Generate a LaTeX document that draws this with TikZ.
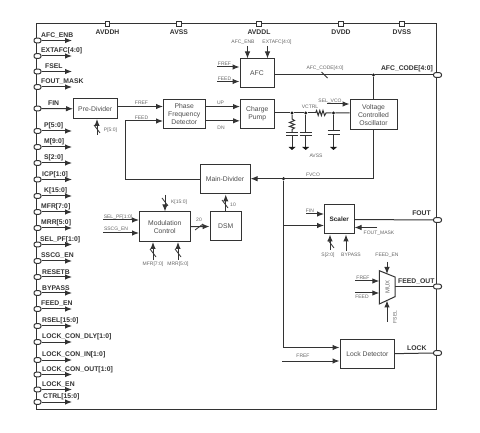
\documentclass[tikz,border=0pt]{standalone}
\usepackage{fontspec}
\setmainfont{Liberation Sans}
\usetikzlibrary{arrows.meta}
\tikzset{
  x=1pt,y=-1pt,
  wire/.style={line width=1pt,draw=black!80},
  arr/.style={wire,-{Latex[length=7pt,width=5.5pt]}},
  blockbox/.style={draw=black!80,line width=1pt,fill=white,align=center,inner sep=0pt,text=black!70,
    font=\fontsize{6.8}{8}\selectfont},
  pin/.style={draw=black!80,line width=1pt,fill=white,rounded corners=2pt,minimum width=7pt,minimum height=4.6pt,inner sep=0pt},
  pad/.style={draw=black!80,line width=1pt,fill=white,minimum width=4.5pt,minimum height=4.5pt,inner sep=0pt},
  biglab/.style={font=\fontsize{6.8}{7}\selectfont\bfseries,text=black!80,inner sep=0pt},
  smalllab/.style={font=\fontsize{5}{5}\selectfont,text=black!60,inner sep=0pt},
  dot/.style={circle,fill=black!90,minimum size=3.4pt,inner sep=0pt},
  gnd/.style={draw=none,fill=black!90},
}
\newcommand{\busmark}[3]{\draw[wire,line width=0.8pt] ([shift={(#2,#3)}]#1) -- ([shift={(-#2,-#3)}]#1);}
\newcommand{\groundat}[1]{\fill[gnd] ([shift={(-3.5,0)}]#1) -- ([shift={(3.5,0)}]#1) -- ([shift={(0,3)}]#1) -- cycle;}
\begin{document}
\begin{tikzpicture}
\useasboundingbox (0,0) rectangle (480,433);
\fill[white] (0,0) rectangle (480,433);
% frame
\coordinate (fTL) at (36,24); \coordinate (fBR) at (436,409);
\draw[wire] (fTL) rectangle (fBR);
% supply pads
\foreach \n/\x/\t in {avddh/107.5/AVDDH,avss/179/AVSS,avddl/259/AVDDL,dvdd/341/DVDD,dvss/402/DVSS}{
  \node[pad] (\n) at (\x,24) {};
  \node[biglab] (\n lab) at (\x,32) {\t};
}
% left pins
\foreach \n/\y/\x/\t in {
  a/40.5/41/AFC\_ENB, b/56/41/EXTAFC[4:0], c/71.5/45/FSEL, d/87/41/FOUT\_MASK,
  e/108.5/48/FIN, f/131/44/P[5:0], g/147/44/M[9:0], h/163/44/S[2:0],
  i/179.5/42/ICP[1:0], j/196/44/K[15:0], k/212/41/MFR[7:0], l/228/41/MRR[5:0],
  m/244.5/40/SEL\_PF[1:0], n/261/41/SSCG\_EN, o/277/42/RESETB, p/293/42/BYPASS,
  q/309/41/FEED\_EN, r/326/42/RSEL[15:0], s/342/42/LOCK\_CON\_DLY[1:0],
  t/360/42/LOCK\_CON\_IN[1:0], u/374.5/42/LOCK\_CON\_OUT[1:0], v/389.5/42/LOCK\_EN, w/402/43/CTRL[15:0]}{
  \node[pin] (pin\n) at (37.5,\y) {};
  \node[biglab,anchor=west] (lab\n) at (\x,\y-5) {\t};
  \coordinate (end\n) at (72,\y);
}
\foreach \n in {a,b,c,d,f,g,h,i,j,k,l,m,n,o,p,q,r,s,t,u,v,w}{\draw[arr] (pin\n.east) -- (end\n);}
% blocks
\node[blockbox,minimum width=43.5pt,minimum height=19.5pt] (pre) at (95.25,108.75) {Pre-Divider};
\node[blockbox,minimum width=41.5pt,minimum height=29.5pt] (pfd) at (184.25,114.25) {Phase\\Frequency\\Detector};
\node[blockbox,minimum width=34pt,minimum height=29pt] (afc) at (257,73.5) {AFC};
\node[blockbox,minimum width=33.5pt,minimum height=29pt] (cp) at (257.25,113.75) {Charge\\Pump};
\node[blockbox,minimum width=47pt,minimum height=29.5pt] (vco) at (373.5,114.75) {Voltage\\Controlled\\Oscillator};
\node[blockbox,minimum width=50pt,minimum height=29.5pt] (main) at (225,179.25) {Main-Divider};
\node[blockbox,minimum width=50.5pt,minimum height=29.5pt] (mod) at (164.75,226.75) {Modulation\\Control};
\node[blockbox,minimum width=31.5pt,minimum height=29pt] (dsm) at (225.75,226.5) {DSM};
\node[blockbox,minimum width=29.5pt,minimum height=29pt,text=black!85,font=\fontsize{6.4}{8}\selectfont\bfseries] (scaler) at (339.25,219.5) {Scaler};
\node[blockbox,minimum width=54.7pt,minimum height=29.3pt] (lock) at (367.35,353.65) {Lock Detector};
% MUX
\draw[blockbox] (379.3,270.7) coordinate (muxTL) -- (395,277) coordinate (muxTR) -- (395,296.7) coordinate (muxBR) -- (379.3,304) coordinate (muxBL) -- cycle;
\node[smalllab,rotate=90,font=\fontsize{6}{6}\selectfont] (muxlab) at (387.5,287) {MUX};
% right pads
\foreach \n/\y in {oafc/75,ofout/220,ofeed/286.5,olock/353}{\node[pin,minimum width=8pt] (\n) at (437.5,\y) {};}
% junction dots
\node[dot] (jafc) at (373.5,75) {};
\node[dot] (jvco) at (283.5,178.7) {};
\node[dot] (j1) at (292,113) {};
\node[dot] (j2) at (305.7,113) {};
\node[dot] (j3) at (333.5,113) {};
% main signal paths
\draw[wire] (afc.east |- jafc) -- (jafc) -- (oafc.west);
\draw[wire] (jafc) -- (vco.north);
\draw[arr] (pine.east) -- (pre.west);
\draw[arr] (pre.east |- 0,106.5) -- (pfd.west |- 0,106.5);
\coordinate (fbk) at (125,121);
\draw[arr] (main.west) -- (fbk |- main.west) -- (fbk) -- (pfd.west |- fbk);
\draw[arr] (pfd.east |- 0,106.6) -- (cp.west |- 0,106.6);
\draw[arr] (pfd.east |- 0,120.8) -- (cp.west |- 0,120.8);
\draw[wire] (cp.east |- j1) -- (j1) -- (j2) -- (315.5,113);
\draw[wire] (315.5,113) -- (316.6,110.5) -- (318.2,115.5) -- (319.8,110.5) -- (321.4,115.5) -- (323,110.5) -- (324.6,115.5) -- (326,113) -- (j3) -- (vco.west |- j3);
\draw[arr] (vco.south) -- (373.5,178.7) -- (main.east |- 0,178.7);
\draw[arr] (jvco) -- (283.5,347.5) -- (lock.west |- 0,347.5);
\draw[arr] (283.5,225.5) -- (scaler.west |- 0,225.5);
\coordinate (ffref) at (282,361);
\draw[arr] (ffref) -- (lock.west |- ffref);
\draw[wire] (scaler.east) -- (ofout.west);
\draw[wire] (395,286.5) -- (ofeed.west);
\draw[wire] (lock.east) -- (olock.west);
\draw[arr] (dsm.north) -- (main.south -| dsm.north);
\draw[arr] (mod.east) -- (dsm.west);
% filter
\draw[wire] (j1) -- (292,119) -- (294.5,120.5) -- (289.5,122.5) -- (294.5,124.5) -- (289.5,126.5) -- (294.5,128) -- (292,129.5) -- (292,132.5);
\draw[wire] (286,132.5) -- (298,132.5) (286,136) -- (298,136);
\coordinate (g1) at (292,147); \coordinate (g2) at (305.7,147); \coordinate (g3) at (333.5,147);
\draw[wire] (292,136) -- (g1);
\draw[wire] (j2) -- (305.7,132.5) (305.7,136) -- (g2);
\draw[wire] (299.7,132.5) -- (311.7,132.5) (299.7,136) -- (311.7,136);
\draw[wire] (j3) -- (333.5,131) (333.5,135) -- (g3);
\draw[wire] (327.5,131) -- (339.5,131) (327.5,135) -- (339.5,135);
\groundat{g1}\groundat{g2}\groundat{g3}
% AFC inputs
\coordinate (afcA) at (247.5,46); \coordinate (afcB) at (267.5,46);
\draw[arr] (afcA) -- (afcA |- afc.north);
\draw[arr] (afcB) -- (afcB |- afc.north);
\coordinate (afcC) at (217,67); \coordinate (afcD) at (217,81.5);
\draw[arr] (afcC) -- (afc.west |- afcC);
\draw[arr] (afcD) -- (afc.west |- afcD);
% P bus
\coordinate (pb) at (97,135);
\draw[arr] (pb) -- (pb |- pre.south);
\coordinate (pbm) at (97,129); \busmark{pbm}{-3}{-4}
% Modulation inputs
\coordinate (kb) at (165,195);
\draw[arr] (kb) -- (kb |- mod.north);
\coordinate (kbm) at (165,202); \busmark{kbm}{-3}{-4}
\coordinate (spf) at (103,220); \coordinate (ssc) at (103,233);
\draw[arr] (spf) -- (mod.west |- spf);
\draw[arr] (ssc) -- (mod.west |- ssc);
\coordinate (mf) at (153,260); \coordinate (mr) at (178,260);
\draw[arr] (mf) -- (mf |- mod.south);
\draw[arr] (mr) -- (mr |- mod.south);
\coordinate (mfm) at (153,253); \busmark{mfm}{-3}{-4}
\coordinate (mrm) at (178,253); \busmark{mrm}{-3}{-4}
\coordinate (m20) at (199,227); \busmark{m20}{-4}{3}
\coordinate (m10) at (225,204); \busmark{m10}{-3}{-4}
\coordinate (mafc) at (324.5,75); \busmark{mafc}{-3}{-3}
% VCO select
\coordinate (selv) at (327,104);
\draw[arr] (selv) -- (vco.west |- selv);
% Scaler
\coordinate (sfin) at (306,214);
\draw[arr] (sfin) -- (scaler.west |- sfin);
\coordinate (sfm) at (377,227.5);
\draw[arr] (sfm) -- (scaler.east |- sfm);
\coordinate (ss) at (330,250); \coordinate (sb) at (346,251);
\draw[arr] (ss) -- (ss |- scaler.south);
\draw[arr] (sb) -- (sb |- scaler.south);
\coordinate (ssm) at (331,244); \busmark{ssm}{-3}{-4}
% MUX inputs
\coordinate (mfe) at (387,262); \coordinate (mfs) at (387,322);
\draw[arr] (mfe) -- (387,274);
\draw[arr] (mfs) -- (387,300.5);
\coordinate (mfr) at (355,281); \coordinate (mfd) at (355,293);
\draw[arr] (mfr) -- (379.3,281);
\draw[arr] (mfd) -- (379.3,293);
% big labels
\node[biglab,anchor=east] (lafc) at (433,68.5) {AFC\_CODE[4:0]};
\node[biglab,anchor=east] (lfout) at (431,213) {FOUT};
\node[biglab,anchor=west] (lfo) at (398,282) {FEED\_OUT};
\node[biglab,anchor=west] (llock) at (407,348) {LOCK};
% small labels
\foreach \n/\x/\y/\t in {
 s1/141.5/103/FREF, s2/141.5/118/FEED, s3/220.5/103/UP, s4/221/127.5/DN,
 s5/110.5/130.5/P[5:0], s6/243/42/AFC\_ENB, s7/277/42/EXTAFC[4:0],
 s8/224.5/64/FREF, s9/224.5/79/FEED, s10/325/68/AFC\_CODE[4:0],
 s11/330/101/SEL\_VCO, s12/310/107/VCTRL, s13/316/156/AVSS, s14/313/175/FVCO,
 s15/179/202/K[15:0], s16/118/217/SEL\_PF[1:0], s17/116/229/SSCG\_EN,
 s18/199/219.5/20, s19/233/205/10, s20/153/264/MFR[7:0], s21/178/264/MRR[5:0],
 s22/310/211/FIN, s23/379/233/FOUT\_MASK, s24/328/255/S[2:0], s25/351/255/BYPASS,
 s26/387/255/FEED\_EN, s27/363/278/FREF, s28/362/297/FEED, s29/303/355.5/FREF}{
  \node[smalllab] (\n) at (\x,\y) {\t};
}
\node[smalllab,rotate=90] (s30) at (395,317) {FSEL};
\end{tikzpicture}
\end{document}
